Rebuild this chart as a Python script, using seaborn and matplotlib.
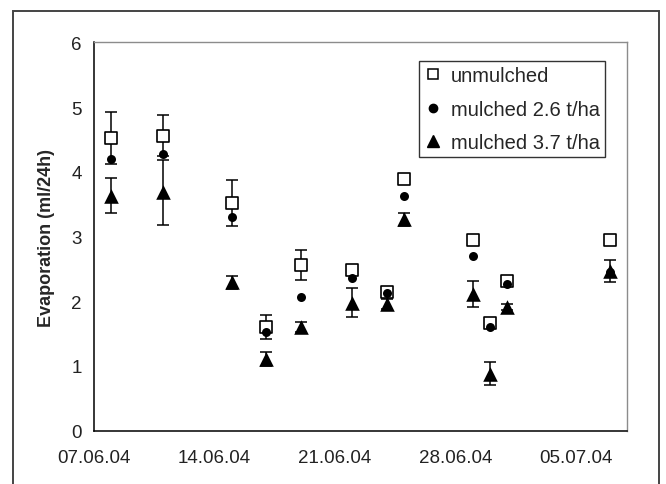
import datetime as dt
import matplotlib
matplotlib.use("Agg")
import matplotlib.pyplot as plt
import matplotlib.dates as mdates
from matplotlib.lines import Line2D
from matplotlib.patches import Rectangle
import pandas as pd
import seaborn as sns

# measurement dates (2004)
dates = ["2004-06-08", "2004-06-11", "2004-06-15", "2004-06-17", "2004-06-19", "2004-06-22",
         "2004-06-24", "2004-06-25", "2004-06-29", "2004-06-30", "2004-07-01", "2004-07-07"]

unmulched = [4.52, 4.56, 3.52, 1.60, 2.56, 2.49, 2.15, 3.89, 2.94, 1.66, 2.32, 2.95]
unmulched_err = [0.40, 0.31, 0.36, 0.19, 0.23, 0.07, 0.05, 0.05, 0.05, 0.05, 0.05, 0.03]

mulched_26 = [4.19, 4.27, 3.30, 1.53, 2.06, 2.36, 2.13, 3.62, 2.70, 1.60, 2.27, 2.45]

mulched_37 = [3.63, 3.68, 2.29, 1.11, 1.60, 1.98, 1.96, 3.27, 2.11, 0.88, 1.91, 2.47]
mulched_37_err = [0.27, 0.50, 0.10, 0.11, 0.08, 0.23, 0.08, 0.10, 0.20, 0.18, 0.04, 0.17]

series_names = ["unmulched", "mulched 2.6 t/ha", "mulched 3.7 t/ha"]

x_start = dt.datetime(2004, 6, 7)
x_end = dt.datetime(2004, 7, 8)
y_ticks = [0, 1, 2, 3, 4, 5, 6]


def main():
    sns.set_style("white")
    plt.rcParams["font.family"] = ["Liberation Sans", "DejaVu Sans"]

    df = pd.DataFrame({
        "date": pd.to_datetime(dates),
        "unmulched": unmulched,
        "m26": mulched_26,
        "m37": mulched_37,
    })

    fig = plt.figure(figsize=(6.66, 4.85), dpi=100)
    ax = fig.add_axes([0.1416, 0.1099, 0.8003, 0.8008])

    # error bars first, markers on top
    ax.errorbar(df["date"], df["unmulched"], yerr=unmulched_err, fmt="none",
                ecolor="black", elinewidth=1.1, capsize=4, capthick=1.1, zorder=2)
    ax.errorbar(df["date"], df["m37"], yerr=mulched_37_err, fmt="none",
                ecolor="black", elinewidth=1.1, capsize=4, capthick=1.1, zorder=2)

    sns.scatterplot(data=df, x="date", y="unmulched", ax=ax, marker="s", s=70,
                    facecolor="white", edgecolor="black", linewidth=1.2, zorder=3)
    sns.scatterplot(data=df, x="date", y="m26", ax=ax, marker="o", s=42,
                    color="black", edgecolor="black", linewidth=0, zorder=4)
    sns.scatterplot(data=df, x="date", y="m37", ax=ax, marker="^", s=110,
                    color="black", edgecolor="black", linewidth=0, zorder=5)

    ax.set_xlim(x_start, x_end)
    ax.set_ylim(0, 6)
    ax.set_yticks(y_ticks)
    ax.set_xticks([x_start + dt.timedelta(days=7 * i) for i in range(5)])
    ax.xaxis.set_major_formatter(mdates.DateFormatter("%d.%m.%y"))

    ax.set_xlabel("")
    ax.set_ylabel("Evaporation (ml/24h)", fontsize=13, fontweight="bold", labelpad=12)

    ax.tick_params(axis="both", direction="out", length=5, width=1, colors="black",
                   labelsize=13.5, labelcolor="#222222", pad=4)
    ax.tick_params(axis="x", pad=8)

    for side in ["left", "bottom"]:
        ax.spines[side].set_color("black")
        ax.spines[side].set_linewidth(1.1)
    for side in ["top", "right"]:
        ax.spines[side].set_color("#8c8c8c")
        ax.spines[side].set_linewidth(1.0)

    handles = [
        Line2D([], [], marker="s", linestyle="none", markersize=7.5,
               markerfacecolor="white", markeredgecolor="black", markeredgewidth=1.1),
        Line2D([], [], marker="o", linestyle="none", markersize=6,
               markerfacecolor="black", markeredgecolor="black"),
        Line2D([], [], marker="^", linestyle="none", markersize=9,
               markerfacecolor="black", markeredgecolor="black"),
    ]
    leg = ax.legend(handles, series_names, loc="upper left",
                    bbox_to_anchor=(0.61, 0.951), fontsize=14.5, frameon=True,
                    fancybox=False, borderpad=0.25, labelspacing=0.72,
                    handlelength=0.8, handletextpad=0.5, borderaxespad=0)
    leg.get_frame().set_edgecolor("black")
    leg.get_frame().set_linewidth(1.0)

    # outer chart frame (no bottom edge visible)
    frame = Rectangle((13 / 666, -0.1), (659 - 13) / 666, (485 - 12) / 485 + 0.1,
                      transform=fig.transFigure, fill=False, edgecolor="#444444",
                      linewidth=1.4, zorder=0)
    fig.patches.append(frame)

    fig.savefig("out.png", dpi=100)


if __name__ == "__main__":
    main()
